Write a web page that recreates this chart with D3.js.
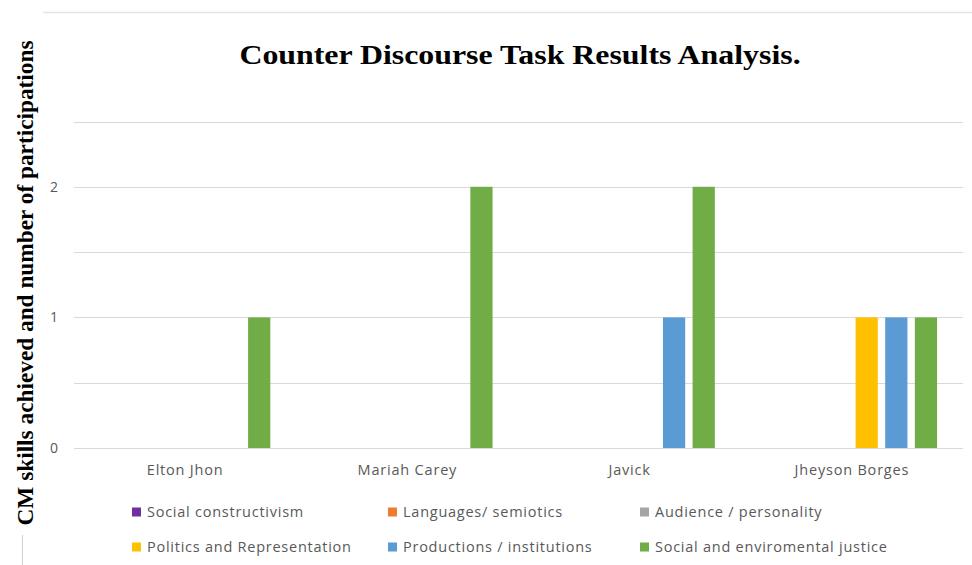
<!DOCTYPE html>
<html>
<head>
<meta charset="utf-8">
<script src="https://cdn.jsdelivr.net/npm/d3@7"></script>
<style>
html,body{margin:0;padding:0;background:#fff;}
svg{display:block;}
</style>
</head>
<body>
<svg id="chart" width="972" height="565"></svg>
<script>
const categories = ["Elton Jhon", "Mariah Carey", "Javick", "Jheyson Borges"];
const seriesNames = ["Social constructivism", "Languages/ semiotics", "Audience / personality", "Politics and Representation", "Productions / institutions", "Social and enviromental justice"];
const socialConstructivism = [0, 0, 0, 0];
const languagesSemiotics = [0, 0, 0, 0];
const audiencePersonality = [0, 0, 0, 0];
const politicsRepresentation = [0, 0, 0, 1];
const productionsInstitutions = [0, 0, 1, 1];
const socialJustice = [1, 2, 2, 1];
const seriesColors = ["#7030a0", "#ed7d31", "#a5a5a5", "#ffc000", "#5b9bd5", "#70ad47"];
const gridValues = [0, 0.5, 1, 1.5, 2, 2.5];
const tickLabels = [0, 1, 2];
const titleText = "Counter Discourse Task Results Analysis.";
const yTitleText = "CM skills achieved and number of participations";

const seriesValues = [socialConstructivism, languagesSemiotics, audiencePersonality, politicsRepresentation, productionsInstitutions, socialJustice];

const svg = d3.select("#chart");

// outer border fragments
svg.append("line").attr("x1", 43).attr("x2", 972).attr("y1", 12.5).attr("y2", 12.5)
  .attr("stroke", "#e3e3e3").attr("stroke-width", 1.5);
svg.append("line").attr("x1", 22.5).attr("x2", 22.5).attr("y1", 535).attr("y2", 565)
  .attr("stroke", "#d0d0d0").attr("stroke-width", 1);

const x = d3.scaleBand().domain(categories).range([74, 963]).paddingInner(0.2).paddingOuter(0.1);
const xs = d3.scaleBand().domain(seriesNames).range([0, x.bandwidth()]).paddingInner(0.25).paddingOuter(0.125);
const y = d3.scaleLinear().domain([0, 2.5]).range([448, 121.5]);

// gridlines
svg.append("g").selectAll("line").data(gridValues).join("line")
  .attr("x1", 74).attr("x2", 963)
  .attr("y1", d => Math.round(y(d)) + 0.5).attr("y2", d => Math.round(y(d)) + 0.5)
  .attr("stroke", "#d9d9d9").attr("stroke-width", 1.2);

// y tick labels
const yAxis = d3.axisLeft(y).tickValues(tickLabels).tickFormat(d3.format("d")).tickSize(0).tickPadding(0);
const ya = svg.append("g").attr("transform", "translate(58,0)").call(yAxis);
ya.select(".domain").remove();
ya.selectAll("text").attr("fill", "#595959").style("font-family", "'Open Sans', sans-serif").style("font-size", "14px");

// x category labels
const xAxis = d3.axisBottom(x).tickSize(0).tickPadding(0);
const xa = svg.append("g").attr("transform", "translate(0,465)").call(xAxis);
xa.select(".domain").remove();
xa.selectAll("text").attr("fill", "#595959").style("font-family", "'Open Sans', sans-serif").style("font-size", "14.5px").attr("letter-spacing", "0.8px");

// bars
const groups = svg.append("g").selectAll("g").data(categories).join("g")
  .attr("transform", d => `translate(${x(d)},0)`);
groups.selectAll("rect")
  .data((c, ci) => seriesNames.map((s, si) => ({s, si, v: seriesValues[si][ci]})))
  .join("rect")
  .attr("x", d => xs(d.s))
  .attr("width", xs.bandwidth())
  .attr("y", d => y(d.v))
  .attr("height", d => y(0) - y(d.v))
  .attr("fill", d => seriesColors[d.si]);

// title
svg.append("text").attr("transform", "translate(520,64) scale(1.18,1)").attr("text-anchor", "middle")
  .style("font-family", "'Liberation Serif', 'Times New Roman', serif").style("font-weight", "bold")
  .style("font-size", "27px").attr("fill", "#000").text(titleText);

// y title
svg.append("text").attr("transform", "translate(33,283) rotate(-90)").attr("text-anchor", "middle")
  .style("font-family", "'Liberation Serif', 'Times New Roman', serif").style("font-weight", "bold")
  .style("font-size", "23.3px").attr("fill", "#000").text(yTitleText);

// legend
const legX = [132, 388, 640];
const legY = [512, 547];
const leg = svg.append("g").selectAll("g").data(seriesNames).join("g")
  .attr("transform", (d, i) => `translate(${legX[i % 3]},${legY[Math.floor(i / 3)]})`);
leg.append("rect").attr("x", 0).attr("y", -4.5).attr("width", 9).attr("height", 9)
  .attr("fill", (d, i) => seriesColors[i]);
leg.append("text").attr("x", 15).attr("y", 0).attr("dy", "0.35em")
  .attr("fill", "#595959").style("font-family", "'Open Sans', sans-serif").style("font-size", "14.5px")
  .attr("letter-spacing", "0.75px").text(d => d);
</script>
</body>
</html>
